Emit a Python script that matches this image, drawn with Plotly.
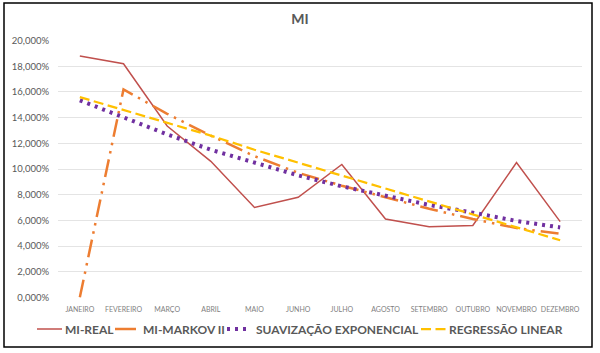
import plotly.graph_objects as go

meses = ["JANEIRO", "FEVEREIRO", "MARÇO", "ABRIL", "MAIO", "JUNHO", "JULHO",
         "AGOSTO", "SETEMBRO", "OUTUBRO", "NOVEMBRO", "DEZEMBRO"]
mi_real = [18.8, 18.2, 13.35, 10.6, 7.0, 7.8, 10.35, 6.1, 5.5, 5.6, 10.5, 5.9]
mi_markov = [0.0, 16.2, 14.3, 12.6, 11.0, 9.7, 8.7, 7.8, 6.9, 6.1, 5.4, 4.95]
suavizacao = [15.35, 14.0, 12.7, 11.5, 10.5, 9.5, 8.65, 7.95, 7.2, 6.6, 5.95, 5.45]
regressao = [15.6, 14.6, 13.6, 12.6, 11.5, 10.5, 9.5, 8.5, 7.5, 6.5, 5.5, 4.45]
y_ticks = [0, 2, 4, 6, 8, 10, 12, 14, 16, 18, 20]
y_ticktext = ["0,000%", "2,000%", "4,000%", "6,000%", "8,000%", "10,000%",
              "12,000%", "14,000%", "16,000%", "18,000%", "20,000%"]

FONT = "Lato, 'Open Sans', sans-serif"

series = [
    ("MI-REAL", mi_real, dict(color="#C0504D", width=1.5)),
    ("MI-MARKOV II", mi_markov, dict(color="#ED7D31", width=2.5,
                                     dash="18px,6px,2.5px,6px,2.5px,6px")),
    ("SUAVIZAÇÃO EXPONENCIAL", suavizacao, dict(color="#7030A0", width=4,
                                                dash="3px,5px")),
    ("REGRESSÃO LINEAR", regressao, dict(color="#FFC000", width=2.25,
                                         dash="10px,4.5px")),
]

fig = go.Figure()
for name, vals, ln in series:
    fig.add_trace(go.Scatter(x=meses, y=vals, name=name, mode="lines", line=ln,
                             showlegend=False))

L, R, T, B = 58, 18, 40, 55
W, H = 600, 353
pw, ph = W - L - R, H - T - B


def px_x(px):
    return (px - L) / pw


def px_y(py):
    return (ph - (py - T)) / ph


# manual legend (Excel style): sample line + label
legend_y = 329
legend_items = [
    (37, 62, 63, dict(color="#C0504D", width=1.5)),
    (115, 136, 141, dict(color="#ED7D31", width=2.5)),
    (227, 251, 254, dict(color="#7030A0", width=4, dash="3px,5px")),
    (421, 446, 447, dict(color="#FFC000", width=2.25, dash="10px,4.5px")),
]
shapes = [dict(type="rect", xref="paper", yref="paper",
               x0=px_x(4), x1=px_x(592), y0=px_y(347), y1=px_y(3),
               line=dict(color="black", width=1.5), layer="below")]
annotations = []
for (x0, x1, xt, ln), (name, _, _) in zip(legend_items, series):
    shapes.append(dict(type="line", xref="paper", yref="paper",
                       x0=px_x(x0), x1=px_x(x1), y0=px_y(legend_y), y1=px_y(legend_y),
                       line=ln))
    annotations.append(dict(text="<b>%s</b>" % name, xref="paper", yref="paper",
                            x=px_x(xt), y=px_y(legend_y + 0.5), xanchor="left",
                            yanchor="middle", showarrow=False,
                            font=dict(size=12, color="#595959", family=FONT)))

fig.update_layout(
    width=W, height=H,
    margin=dict(l=L, r=R, t=T, b=B, autoexpand=False),
    paper_bgcolor="white", plot_bgcolor="white",
    font=dict(family=FONT, color="#595959"),
    title=dict(text="<b>MI</b>", x=px_x(300), xref="paper", xanchor="center",
               y=1 - 19 / H, yanchor="middle",
               font=dict(size=14, color="#595959", family=FONT)),
    xaxis=dict(type="category", range=[-0.5, 11.5], showgrid=False, showline=False,
               ticks="outside", ticklen=5, tickcolor="rgba(0,0,0,0)",
               tickfont=dict(size=7, color="#7F7F7F", family=FONT),
               tickangle=0, fixedrange=True),
    yaxis=dict(range=[-0.05, 20.05], tickmode="array", tickvals=y_ticks, ticktext=y_ticktext,
               showgrid=True, gridcolor="#E4E4E4", gridwidth=1, zeroline=False,
               showline=False, ticks="outside", ticklen=6, tickcolor="rgba(0,0,0,0)",
               tickfont=dict(size=9.5, color="#595959", family=FONT),
               fixedrange=True),
    shapes=shapes,
    annotations=annotations,
    showlegend=False,
)

fig.write_html("out.html")
